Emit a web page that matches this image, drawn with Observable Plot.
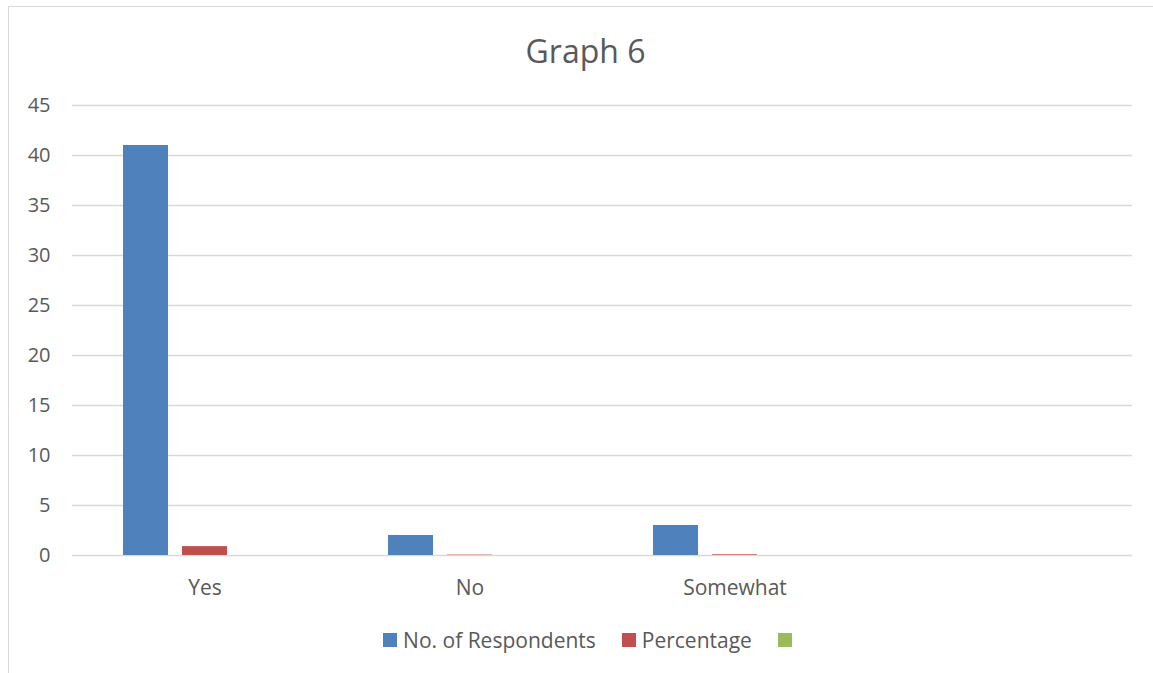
<!DOCTYPE html>
<html>
<head>
<meta charset="utf-8">
<script src="https://cdn.jsdelivr.net/npm/d3@7"></script>
<script src="https://cdn.jsdelivr.net/npm/@observablehq/plot@0.6"></script>
<style>
  html, body { margin: 0; padding: 0; background: #fff; }
  body { width: 1153px; height: 673px; overflow: hidden; position: relative; font-family: "Open Sans", sans-serif; color: #595959; }
  #frame { position: absolute; left: 8px; top: 6px; width: 1200px; height: 700px; border: 1px solid #d9d9d9; box-sizing: border-box; pointer-events: none; }
  #title { position: absolute; left: 9px; top: 29px; width: 1153px; text-align: center; font-size: 32px; line-height: 44px; }
  #chart { position: absolute; left: 0; top: 97px; }
  #legend { position: absolute; left: 14px; top: 627px; width: 1153px; display: flex; justify-content: center; align-items: center; font-size: 21px; line-height: 26px; }
  .item { display: flex; align-items: center; margin: 0 13px; }
  .sw { width: 14px; height: 14px; margin-right: 6px; }
</style>
</head>
<body>
<div id="frame"></div>
<div id="title">Graph 6</div>
<div id="chart"></div>
<div id="legend"></div>
<script>
// the fourth category is empty in the source chart
const categories = ["Yes", "No", "Somewhat", " "];
const seriesNames = ["No. of Respondents", "Percentage", " "];
const seriesColors = ["#4F81BD", "#C0504D", "#9BBB59"];
const respondents = [41, 2, 3, null];
const percentage = [0.89, 0.04, 0.07, null];
const thirdSeries = [0, 0, 0, null];
const yTicks = [0, 5, 10, 15, 20, 25, 30, 35, 40, 45];

const seriesValues = [respondents, percentage, thirdSeries];
const table = [];
categories.forEach((c, i) => {
  seriesNames.forEach((s, j) => {
    table.push({category: c, series: s, value: seriesValues[j][i]});
  });
});

const chart = Plot.plot({
  width: 1153,
  height: 500,
  marginLeft: 72,
  marginRight: 21,
  marginTop: 8,
  marginBottom: 42,
  style: {fontFamily: "Open Sans, sans-serif", color: "#595959", background: "transparent", overflow: "visible"},
  fx: {domain: categories, padding: 0, label: null},
  x: {domain: seriesNames, paddingInner: 14 / 59, paddingOuter: 0.864, axis: null},
  y: {domain: [0, 45], axis: null, label: null},
  color: {domain: seriesNames, range: seriesColors},
  marks: [
    Plot.gridY(yTicks, {stroke: "#d9d9d9", strokeOpacity: 1, strokeWidth: 1.5}),
    Plot.barY(table, {fx: "category", x: "series", y: "value", fill: "series"}),
    Plot.axisY(yTicks, {tickSize: 0, tickPadding: 22, fontSize: 20, label: null}),
    Plot.axisFx({anchor: "bottom", tickSize: 0, tickPadding: 25, fontSize: 21, label: null})
  ]
});
document.getElementById("chart").appendChild(chart);

const legend = document.getElementById("legend");
seriesNames.forEach((s, j) => {
  const item = document.createElement("div");
  item.className = "item";
  const sw = document.createElement("div");
  sw.className = "sw";
  sw.style.background = seriesColors[j];
  item.appendChild(sw);
  const t = document.createElement("span");
  t.textContent = s.trim();
  item.appendChild(t);
  legend.appendChild(item);
});
</script>
</body>
</html>
